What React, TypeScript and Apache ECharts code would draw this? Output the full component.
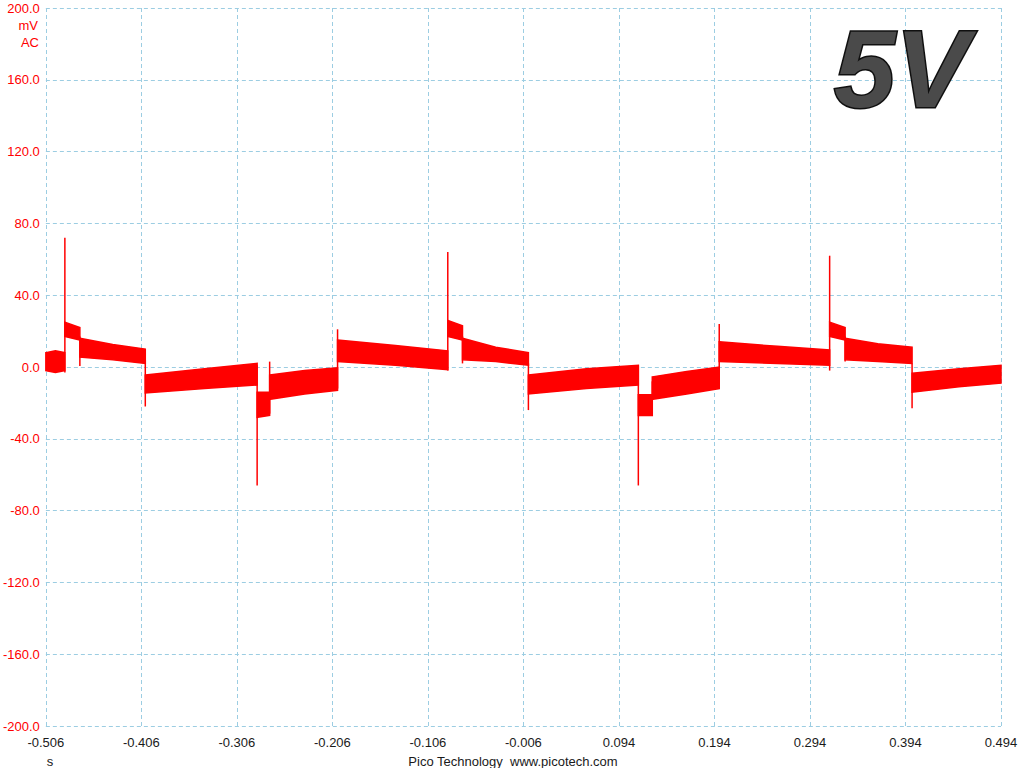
import React, { useEffect, useRef } from "react";
import * as echarts from "echarts";

// Time axis (s) and voltage axis (mV)
const T_MIN = -0.506;
const T_MAX = 0.494;
const T_STEP = 0.1;
const V_MIN = -200;
const V_MAX = 200;
const V_STEP = 40;

// Noise band envelopes of the trace: [time s, upper mV, lower mV]
const bandSegments: number[][][] = [
  [[-0.506, 8, -2], [-0.496, 9, -3], [-0.4862, 8, -2]],
  [[-0.4862, 25, 17], [-0.4704, 22, 15]],
  [[-0.4704, 16, 5.5], [-0.436, 12.5, 4], [-0.4019, 10, 2]],
  [[-0.4019, -4.5, -14.5], [-0.34, -1, -12], [-0.2848, 2, -10]],
  [[-0.2848, -14, -28], [-0.2717, -14, -27]],
  [[-0.2717, -4.5, -18], [-0.235, -2, -15], [-0.2006, -0.5, -13]],
  [[-0.2006, 15, 3], [-0.14, 12, 1], [-0.0852, 9, -1.5]],
  [[-0.0852, 26, 17], [-0.0698, 23, 15]],
  [[-0.0698, 16, 4], [-0.035, 11, 3], [-0.0008, 8, 1]],
  [[-0.0008, -4.5, -15], [0.06, -1, -12], [0.1143, 1, -10]],
  [[0.1143, -15.5, -27], [0.1289, -15.5, -27]],
  [[0.1289, -5.5, -18], [0.165, -2.5, -15], [0.199, 0, -12]],
  [[0.199, 14, 3], [0.26, 11.5, 2], [0.3146, 9.5, 1]],
  [[0.3146, 25, 17], [0.3308, 22, 15]],
  [[0.3308, 16, 4], [0.365, 13, 3], [0.4009, 11, 2]],
  [[0.4009, -3.5, -14], [0.45, -1, -11], [0.494, 1, -9]],
];

// Transitions and spikes: [time s, lowest mV, highest mV]
const spikes: number[][] = [
  [-0.4861, -3, 72],
  [-0.4704, 0.5, 17],
  [-0.4019, -22, 4],
  [-0.2848, -66, 1],
  [-0.2717, -26, 3],
  [-0.2006, -12, 21],
  [-0.0852, -2, 64],
  [-0.0698, 2, 17],
  [-0.0008, -24, 2],
  [0.1143, -66, 1],
  [0.1289, -26, -8],
  [0.199, -12, 24],
  [0.3146, -2, 62],
  [0.3308, 3, 17],
  [0.4009, -23, 2],
];

const RED = "#ff0000";
const GRID = "#9ccde2";
const FONT = '"Liberation Sans", Arial, sans-serif';

export default function App() {
  const ref = useRef<HTMLDivElement>(null);

  useEffect(() => {
    if (!ref.current) return;
    const chart = echarts.init(ref.current, undefined, { renderer: "svg" });

    const rel = (t: number) => t - T_MIN;

    const option: any = {
      animation: false,
      backgroundColor: "#ffffff",
      grid: { left: 45, right: 23, top: 8, bottom: 42, containLabel: false },
      xAxis: {
        type: "value",
        min: 0,
        max: T_MAX - T_MIN,
        interval: T_STEP,
        axisLine: { show: false },
        axisTick: { show: false },
        axisLabel: {
          color: "#1a1a1a",
          fontSize: 13,
          fontFamily: FONT,
          margin: 10,
          formatter: (v: number) => (v + T_MIN).toFixed(3),
        },
        splitLine: {
          show: true,
          lineStyle: { color: GRID, type: [4, 3], width: 1 },
        },
      },
      yAxis: {
        type: "value",
        min: V_MIN,
        max: V_MAX,
        interval: V_STEP,
        axisLine: { show: false },
        axisTick: { show: false },
        axisLabel: {
          color: RED,
          fontSize: 13,
          fontFamily: FONT,
          margin: 6,
          formatter: (v: number) => v.toFixed(1),
        },
        splitLine: {
          show: true,
          lineStyle: { color: GRID, type: [4, 3], width: 1 },
        },
      },
      series: [
        {
          type: "custom",
          name: "band",
          clip: true,
          data: bandSegments.map((s) => [rel(s[0][0]), s[0][1]]),
          encode: { x: 0, y: 1 },
          renderItem: (params: any, api: any) => {
            const seg = bandSegments[params.dataIndex];
            const upper = seg.map((p) => api.coord([rel(p[0]), p[1]]));
            const lower = seg
              .slice()
              .reverse()
              .map((p) => api.coord([rel(p[0]), p[2]]));
            return {
              type: "polygon",
              shape: { points: upper.concat(lower) },
              style: { fill: RED, stroke: RED, lineWidth: 1.5 },
            };
          },
        },
        {
          type: "custom",
          name: "spikes",
          clip: true,
          data: spikes.map((s) => [rel(s[0]), s[1], s[2]]),
          encode: { x: 0, y: [1, 2] },
          renderItem: (params: any, api: any) => {
            const p1 = api.coord([api.value(0), api.value(1)]);
            const p2 = api.coord([api.value(0), api.value(2)]);
            return {
              type: "line",
              shape: { x1: p1[0], y1: p1[1], x2: p2[0], y2: p2[1] },
              style: { stroke: RED, lineWidth: 1.5 },
            };
          },
        },
      ],
      graphic: [
        {
          type: "text",
          x: 38,
          y: 25,
          style: {
            text: "mV",
            fill: RED,
            font: `13px ${FONT}`,
            align: "right",
            verticalAlign: "middle",
          },
        },
        {
          type: "text",
          x: 39,
          y: 42,
          style: {
            text: "AC",
            fill: RED,
            font: `13px ${FONT}`,
            align: "right",
            verticalAlign: "middle",
          },
        },
        {
          type: "text",
          x: 50,
          y: 761,
          style: {
            text: "s",
            fill: "#1a1a1a",
            font: `13px ${FONT}`,
            align: "center",
            verticalAlign: "middle",
          },
        },
        {
          type: "text",
          x: 513,
          y: 761,
          style: {
            text: "Pico Technology  www.picotech.com",
            fill: "#1a1a1a",
            font: `13px ${FONT}`,
            align: "center",
            verticalAlign: "middle",
          },
        },
        {
          type: "text",
          x: 834,
          y: 68,
          z: 100,
          style: {
            text: "5V",
            font: `italic bold 110px ${FONT}`,
            align: "left",
            verticalAlign: "middle",
            fill: "#4a4a4a",
            stroke: "#101010",
            lineWidth: 3,
          },
        },
      ],
    };

    chart.setOption(option);
    return () => chart.dispose();
  }, []);

  return (
    <div
      ref={ref}
      style={{ position: "fixed", left: 0, top: 0, width: 1024, height: 768 }}
    />
  );
}
